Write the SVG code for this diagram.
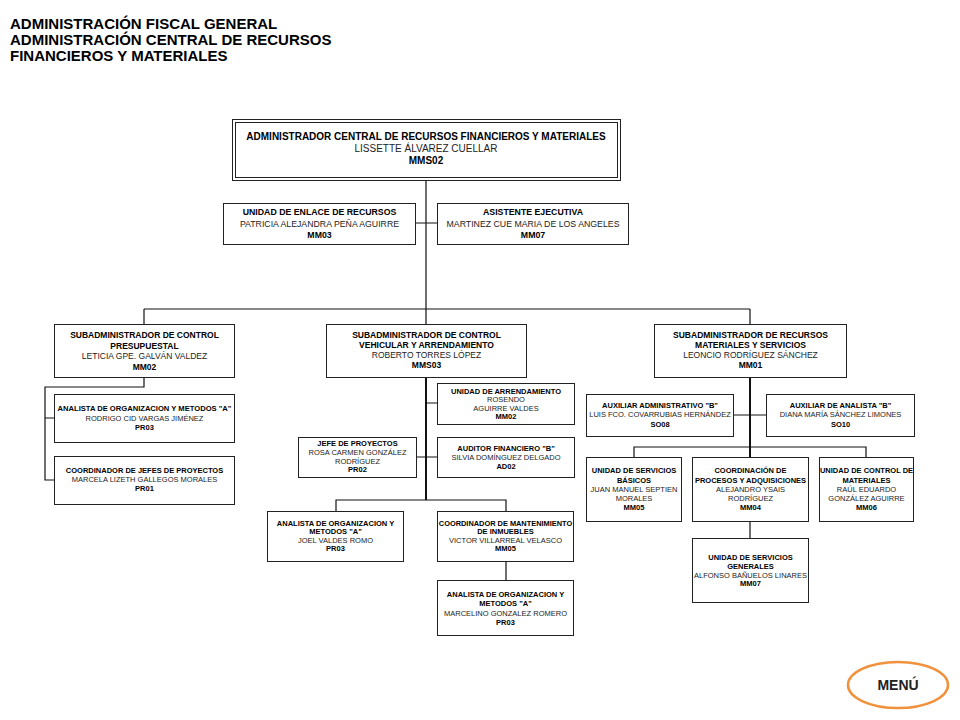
<svg xmlns="http://www.w3.org/2000/svg" width="960" height="720" viewBox="0 0 960 720">
<style>
text{font-family:"Liberation Sans",Arial,sans-serif;text-anchor:middle}
.h{font-size:15px;font-weight:bold;text-anchor:start;fill:#000}
.box{fill:#fff;stroke:#222;stroke-width:1}
.b{font-weight:bold;fill:#000}
.n{fill:#222}
.f10{font-size:10px}
.f9{font-size:8.75px}
.f8{font-size:8.5px}
.f7{font-size:7.5px}
.ln{fill:none;stroke:#111;stroke-width:1.2}
.tk{fill:none;stroke:#111;stroke-width:2}
</style>
<rect width="960" height="720" fill="#fff"/>
<g id="header">
<text class="h" x="10" y="29">ADMINISTRACIÓN FISCAL GENERAL</text>
<text class="h" x="10" y="45">ADMINISTRACIÓN CENTRAL DE RECURSOS</text>
<text class="h" x="10" y="61">FINANCIEROS Y MATERIALES</text>
</g>
<g id="connectors">
<path class="ln" d="M426,180V309M415,223H437M144,309H750M144,309V324M750,309V324M426,309V325"/>
<path class="ln" d="M144,378V387H45V480H54M45,418H54"/>
<path class="tk" d="M426,378V500"/>
<path class="ln" d="M426,403H437M417,457H437M336,511V500H506V511M506,562V580"/>
<path class="tk" d="M750,377V457"/>
<path class="ln" d="M733,415H766M634,457V447H866V457M750,521V538"/>
</g>
<g id="n-admin">
<rect class="box" x="232.5" y="119.5" width="388" height="61"/>
<rect class="box" x="235.5" y="122.5" width="382" height="55"/>
<text class="b f10" x="426" y="140">ADMINISTRADOR CENTRAL DE RECURSOS FINANCIEROS Y MATERIALES</text>
<text class="n f10" x="426" y="152">LISSETTE ÁLVAREZ CUELLAR</text>
<text class="b f10" x="426" y="164">MMS02</text>
</g>
<g id="n-enlace">
<rect class="box" x="223.5" y="203.5" width="192" height="41"/>
<text class="b f9" x="319.5" y="215">UNIDAD DE ENLACE DE RECURSOS</text>
<text class="n f9" x="319.5" y="227">PATRICIA ALEJANDRA PEÑA AGUIRRE</text>
<text class="b f9" x="319.5" y="238">MM03</text>
</g>
<g id="n-asistente">
<rect class="box" x="437.5" y="203.5" width="191" height="41"/>
<text class="b f9" x="533" y="215">ASISTENTE EJECUTIVA</text>
<text class="n f9" x="533" y="227">MARTINEZ CUE MARIA DE LOS ANGELES</text>
<text class="b f9" x="533" y="238">MM07</text>
</g>
<g id="n-presupuestal">
<rect class="box" x="54.5" y="324.5" width="180" height="53"/>
<text class="b f8" x="144.5" y="338">SUBADMINISTRADOR DE CONTROL</text>
<text class="b f8" x="144.5" y="348.5">PRESUPUESTAL</text>
<text class="n f8" x="144.5" y="359">LETICIA GPE. GALVÁN VALDEZ</text>
<text class="b f8" x="144.5" y="369.5">MM02</text>
</g>
<g id="n-analista-1">
<rect class="box" x="54.5" y="394.5" width="180" height="48"/>
<text class="b f7" x="144.5" y="411" style="font-size:7.6px">ANALISTA DE ORGANIZACION Y METODOS "A"</text>
<text class="n f7" x="144.5" y="420.5">RODRIGO CID VARGAS JIMÉNEZ</text>
<text class="b f7" x="144.5" y="430">PR03</text>
</g>
<g id="n-coord-jefes">
<rect class="box" x="54.5" y="456.5" width="180" height="48"/>
<text class="b f7" x="144.5" y="473">COORDINADOR DE JEFES DE PROYECTOS</text>
<text class="n f7" x="144.5" y="482">MARCELA LIZETH GALLEGOS MORALES</text>
<text class="b f7" x="144.5" y="491">PR01</text>
</g>
<g id="n-vehicular">
<rect class="box" x="326.5" y="324.5" width="200" height="53"/>
<text class="b f8" x="426.5" y="338">SUBADMINISTRADOR DE CONTROL</text>
<text class="b f8" x="426.5" y="348">VEHICULAR Y ARRENDAMIENTO</text>
<text class="n f8" x="426.5" y="358">ROBERTO TORRES LÓPEZ</text>
<text class="b f8" x="426.5" y="368">MMS03</text>
</g>
<g id="n-arrendamiento">
<rect class="box" x="437.5" y="383.5" width="137" height="41"/>
<text class="b f7" x="506" y="393.5">UNIDAD DE ARRENDAMIENTO</text>
<text class="n f7" x="506" y="402">ROSENDO</text>
<text class="n f7" x="506" y="410.5">AGUIRRE VALDES</text>
<text class="b f7" x="506" y="419">MM02</text>
</g>
<g id="n-jefe">
<rect class="box" x="298.5" y="437.5" width="118" height="40"/>
<text class="b f7" x="357.5" y="445.5">JEFE DE PROYECTOS</text>
<text class="n f7" x="357.5" y="454.5">ROSA CARMEN GONZÁLEZ</text>
<text class="n f7" x="357.5" y="463.5">RODRÍGUEZ</text>
<text class="b f7" x="357.5" y="472">PR02</text>
</g>
<g id="n-auditor">
<rect class="box" x="437.5" y="437.5" width="137" height="40"/>
<text class="b f7" x="506" y="450.5">AUDITOR FINANCIERO "B"</text>
<text class="n f7" x="506" y="459.5">SILVIA DOMÍNGUEZ DELGADO</text>
<text class="b f7" x="506" y="468.5">AD02</text>
</g>
<g id="n-analista-2">
<rect class="box" x="267.5" y="511.5" width="136" height="50"/>
<text class="b f7" x="335.5" y="525.5">ANALISTA DE ORGANIZACION Y</text>
<text class="b f7" x="335.5" y="534">METODOS "A"</text>
<text class="n f7" x="335.5" y="542.5">JOEL VALDES ROMO</text>
<text class="b f7" x="335.5" y="551">PR03</text>
</g>
<g id="n-mantenimiento">
<rect class="box" x="437.5" y="511.5" width="136" height="50"/>
<text class="b f7" x="505.5" y="525.5" style="font-size:7.4px">COORDINADOR DE MANTENIMIENTO</text>
<text class="b f7" x="505.5" y="534">DE INMUEBLES</text>
<text class="n f7" x="505.5" y="542.5">VICTOR VILLARREAL VELASCO</text>
<text class="b f7" x="505.5" y="551">MM05</text>
</g>
<g id="n-analista-3">
<rect class="box" x="437.5" y="580.5" width="136" height="55"/>
<text class="b f7" x="505.5" y="596.5">ANALISTA DE ORGANIZACION Y</text>
<text class="b f7" x="505.5" y="605.5">METODOS "A"</text>
<text class="n f7" x="505.5" y="615.5">MARCELINO GONZALEZ ROMERO</text>
<text class="b f7" x="505.5" y="624.5">PR03</text>
</g>
<g id="n-materiales">
<rect class="box" x="654.5" y="324.5" width="192" height="53"/>
<text class="b f8" x="750.5" y="338">SUBADMINISTRADOR DE RECURSOS</text>
<text class="b f8" x="750.5" y="348">MATERIALES Y SERVICIOS</text>
<text class="n f8" x="750.5" y="358">LEONCIO RODRÍGUEZ SÁNCHEZ</text>
<text class="b f8" x="750.5" y="368">MM01</text>
</g>
<g id="n-aux-admin">
<rect class="box" x="586.5" y="394.5" width="147" height="42"/>
<text class="b f7" x="660" y="407.5">AUXILIAR ADMINISTRATIVO "B"</text>
<text class="n f7" x="660" y="417">LUIS FCO. COVARRUBIAS HERNÁNDEZ</text>
<text class="b f7" x="660" y="426.5">SO08</text>
</g>
<g id="n-aux-analista">
<rect class="box" x="766.5" y="394.5" width="148" height="42"/>
<text class="b f7" x="840.5" y="407.5">AUXILIAR DE ANALISTA "B"</text>
<text class="n f7" x="840.5" y="417">DIANA MARÍA SÁNCHEZ LIMONES</text>
<text class="b f7" x="840.5" y="426.5">SO10</text>
</g>
<g id="n-basicos">
<rect class="box" x="586.5" y="457.5" width="95" height="64"/>
<text class="b f7" x="634" y="473">UNIDAD DE SERVICIOS</text>
<text class="b f7" x="634" y="482.5">BÁSICOS</text>
<text class="n f7" x="634" y="491.5">JUAN MANUEL SEPTIEN</text>
<text class="n f7" x="634" y="500.5">MORALES</text>
<text class="b f7" x="634" y="509.5">MM05</text>
</g>
<g id="n-adquisiciones">
<rect class="box" x="692.5" y="457.5" width="116" height="64"/>
<text class="b f7" x="750.5" y="473">COORDINACIÓN DE</text>
<text class="b f7" x="750.5" y="482.5">PROCESOS Y ADQUISICIONES</text>
<text class="n f7" x="750.5" y="491.5">ALEJANDRO YSAIS</text>
<text class="n f7" x="750.5" y="500.5">RODRÍGUEZ</text>
<text class="b f7" x="750.5" y="509.5">MM04</text>
</g>
<g id="n-control-materiales">
<rect class="box" x="819.5" y="457.5" width="94" height="64"/>
<text class="b f7" x="866.5" y="473">UNIDAD DE CONTROL DE</text>
<text class="b f7" x="866.5" y="482.5">MATERIALES</text>
<text class="n f7" x="866.5" y="491.5">RAÚL EDUARDO</text>
<text class="n f7" x="866.5" y="500.5">GONZÁLEZ AGUIRRE</text>
<text class="b f7" x="866.5" y="509.5">MM06</text>
</g>
<g id="n-generales">
<rect class="box" x="692.5" y="538.5" width="116" height="64"/>
<text class="b f7" x="750.5" y="559.5">UNIDAD DE SERVICIOS</text>
<text class="b f7" x="750.5" y="568.5">GENERALES</text>
<text class="n f7" x="750.5" y="577.5">ALFONSO BAÑUELOS LINARES</text>
<text class="b f7" x="750.5" y="586">MM07</text>
</g>
<g id="menu">
<ellipse cx="898" cy="685" rx="50" ry="23" fill="#fff" stroke="#F0923D" stroke-width="2.5"/>
<text x="898" y="690" style="font-size:14px;font-weight:bold;fill:#222">MENÚ</text>
</g>
</svg>
